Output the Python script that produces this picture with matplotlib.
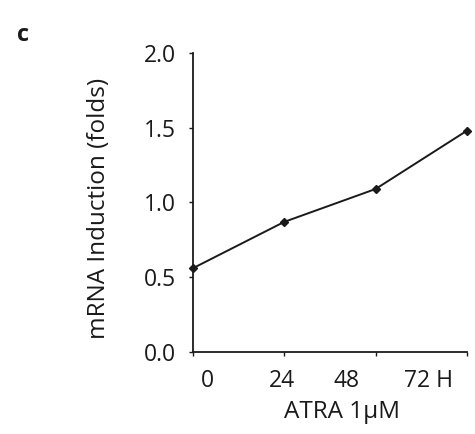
import numpy as np
import matplotlib.pyplot as plt

# data
timepoints = [0, 1, 2, 3]
induction = [0.56, 0.87, 1.09, 1.48]
tick_labels = ["0", "24", "48", "72 H"]
label_pos = [0.16, 0.98, 1.68, 2.58]

plt.rcParams['font.family'] = ['Open Sans', 'DejaVu Sans']

fig = plt.figure(figsize=(4.75, 4.34), dpi=100)
ax = fig.add_axes([0.406, 0.189, 0.577, 0.689])

ax.plot(timepoints, induction, color='#1a1a1a', lw=1.4,
        marker='D', markersize=4, clip_on=False)

ax.set_xlim(0, 3)
ax.set_ylim(0, 2.0)
ax.set_yticks([0.0, 0.5, 1.0, 1.5, 2.0])
ax.set_yticklabels(["0.0", "0.5", "1.0", "1.5", "2.0"])
ax.set_xticks(timepoints)
ax.set_xticklabels([])

for s in ['top', 'right']:
    ax.spines[s].set_visible(False)
for s in ['left', 'bottom']:
    ax.spines[s].set_linewidth(1.3)
    ax.spines[s].set_color('#1a1a1a')

ax.tick_params(axis='both', length=3, width=1, color='#1a1a1a',
               labelsize=16.5, labelcolor='#1a1a1a')
ax.tick_params(axis='y', pad=9)

# x labels sit between the tick marks in the original
for x, t in zip(label_pos, tick_labels):
    ax.text(x, -0.058, t, transform=ax.get_xaxis_transform(),
            ha='center', va='top', fontsize=16.5, color='#1a1a1a')

ax.text(0.545, -0.16, "ATRA 1\u03bcM", transform=ax.transAxes,
        ha='center', va='top', fontsize=17.5, color='#1a1a1a')
ax.set_ylabel("mRNA Induction (folds)", fontsize=17.5, color='#1a1a1a')
ax.yaxis.set_label_coords(-0.30, 0.48)

fig.text(0.035, 0.92, "c", fontsize=17, fontweight='bold', color='#1a1a1a',
         ha='left', va='center')

fig.savefig("out.png", dpi=100)
